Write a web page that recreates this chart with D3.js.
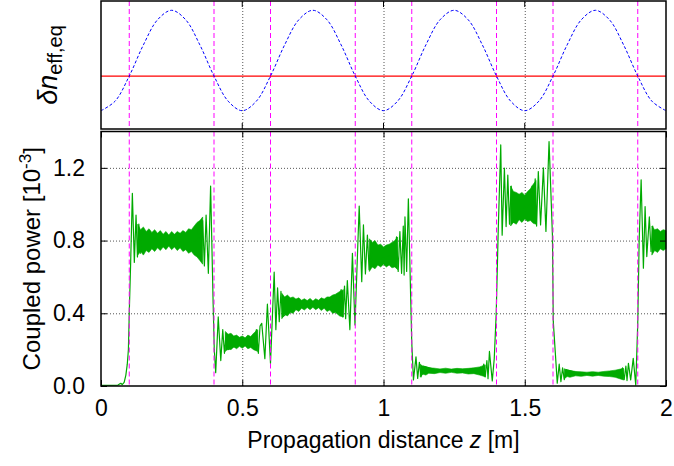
<!DOCTYPE html>
<html>
<head>
<meta charset="utf-8">
<script src="https://cdn.jsdelivr.net/npm/d3@7"></script>
<style>
  body { margin: 0; background: #fff; }
  text { font-family: "Liberation Sans", Arial, sans-serif; fill: #000; }
</style>
</head>
<body>
<svg id="chart" width="674" height="466"></svg>
<script>
// ---- data ----
const xTicks = [0, 0.5, 1, 1.5, 2];
const xTickLabels = ["0", "0.5", "1", "1.5", "2"];
const yTicks = [0, 0.4, 0.8, 1.2];
const yTickLabels = ["0.0", "0.4", "0.8", "1.2"];

// section boundaries (magenta dashed)
const boundaries = [0.1, 0.4, 0.6, 0.9, 1.1, 1.4, 1.6, 1.9];

// top panel: index profile (arbitrary units) and its threshold
const indexZ = [0, 0.05, 0.1, 0.15, 0.2, 0.25, 0.3, 0.35, 0.4, 0.45,
  0.5, 0.55, 0.6, 0.65, 0.7, 0.75, 0.8, 0.85, 0.9, 0.95,
  1, 1.05, 1.1, 1.15, 1.2, 1.25, 1.3, 1.35, 1.4, 1.45,
  1.5, 1.55, 1.6, 1.65, 1.7, 1.75, 1.8, 1.85, 1.9, 1.95, 2];
const indexValue = [-1, -0.81, -0.31, 0.31, 0.81, 1, 0.81, 0.31, -0.31, -0.81,
  -1, -0.81, -0.31, 0.31, 0.81, 1, 0.81, 0.31, -0.31, -0.81,
  -1, -0.81, -0.31, 0.31, 0.81, 1, 0.81, 0.31, -0.31, -0.81,
  -1, -0.81, -0.31, 0.31, 0.81, 1, 0.81, 0.31, -0.31, -0.81, -1];
const indexThreshold = -0.31;

// bottom panel: coupled power, main trace through transitions and ringing
const powerTrace = [
  [0, 0.003], [0.06, 0.005], [0.07, 0.015], [0.075, 0.008], [0.082, 0.02], [0.088, 0.06],
  [0.093, 0.12], [0.097, 0.2], [0.1, 0.4], [0.105, 0.68], [0.111, 1.06], [0.118, 0.68],
  [0.124, 0.94], [0.129, 0.71], [0.134, 0.89], [0.139, 0.73], [0.145, 0.85],
  [0.2, 0.8], [0.3, 0.79], [0.34, 0.8], [0.349, 0.9], [0.355, 0.71], [0.36, 0.91],
  [0.366, 0.66], [0.372, 0.94], [0.38, 0.62], [0.388, 1.1], [0.397, 0.45], [0.401, 0.2],
  [0.406, 0.073], [0.415, 0.38], [0.424, 0.14], [0.431, 0.31], [0.437, 0.18], [0.443, 0.29],
  [0.449, 0.2], [0.5, 0.24], [0.54, 0.24], [0.55, 0.31], [0.557, 0.18], [0.563, 0.33],
  [0.569, 0.345], [0.58, 0.15], [0.589, 0.45], [0.6, 0.125], [0.613, 0.626], [0.619, 0.31],
  [0.625, 0.54], [0.631, 0.354], [0.637, 0.52], [0.642, 0.38],
  [0.7, 0.45], [0.8, 0.455], [0.84, 0.46], [0.85, 0.53], [0.856, 0.38], [0.862, 0.55],
  [0.866, 0.37], [0.872, 0.58], [0.881, 0.31], [0.89, 0.73], [0.899, 0.336], [0.914, 0.99],
  [0.923, 0.574], [0.929, 0.886], [0.936, 0.616], [0.943, 0.83], [0.949, 0.64], [0.955, 0.8],
  [0.96, 0.66], [1.0, 0.71], [1.04, 0.72], [1.046, 0.82], [1.052, 0.63], [1.058, 0.85],
  [1.064, 0.62], [1.07, 0.88], [1.073, 0.61], [1.076, 0.93], [1.082, 0.63], [1.088, 1.03],
  [1.096, 0.5], [1.1, 0.24], [1.106, 0.033], [1.115, 0.16], [1.121, 0.042], [1.127, 0.13],
  [1.133, 0.05], [1.14, 0.11], [1.2, 0.083], [1.3, 0.08], [1.35, 0.085], [1.355, 0.12],
  [1.36, 0.05], [1.366, 0.14], [1.37, 0.04], [1.375, 0.19], [1.385, 0.028], [1.392, 0.15],
  [1.399, 0.4], [1.406, 0.85], [1.415, 1.326], [1.42, 0.83], [1.428, 1.198], [1.434, 0.877],
  [1.44, 1.16], [1.446, 0.89], [1.452, 1.1], [1.458, 0.9], [1.5, 0.985], [1.52, 0.99],
  [1.526, 1.1], [1.531, 0.9], [1.537, 1.14], [1.542, 0.88], [1.548, 1.18], [1.556, 0.886],
  [1.566, 1.2], [1.575, 0.85], [1.586, 1.345], [1.598, 0.83], [1.601, 0.354], [1.611, 0.116],
  [1.615, 0.015], [1.622, 0.12], [1.628, 0.024], [1.634, 0.1], [1.64, 0.035], [1.646, 0.09],
  [1.7, 0.067], [1.8, 0.067], [1.84, 0.07], [1.846, 0.1], [1.852, 0.035], [1.858, 0.11],
  [1.862, 0.03], [1.867, 0.125], [1.875, 0.033], [1.884, 0.152], [1.893, 0.005], [1.9, 0.345],
  [1.905, 0.8], [1.912, 1.134], [1.92, 0.648], [1.926, 0.987], [1.932, 0.712], [1.941, 0.93],
  [1.947, 0.74], [1.953, 0.88], [1.958, 0.75], [1.98, 0.8], [2.0, 0.8]
];

// bottom panel: ragged envelope of the fast oscillation on each plateau [z, low, high]
const powerBand = [
  [0.13, 0.72, 0.89], [0.14, 0.74, 0.86], [0.15, 0.72, 0.875], [0.16, 0.745, 0.85],
  [0.17, 0.735, 0.865], [0.18, 0.755, 0.845], [0.19, 0.74, 0.86], [0.2, 0.76, 0.84],
  [0.21, 0.745, 0.855], [0.22, 0.765, 0.835], [0.23, 0.75, 0.85], [0.24, 0.77, 0.83],
  [0.25, 0.75, 0.85], [0.26, 0.765, 0.835], [0.27, 0.745, 0.85], [0.28, 0.76, 0.84],
  [0.29, 0.74, 0.855], [0.3, 0.75, 0.845], [0.31, 0.73, 0.865], [0.32, 0.74, 0.86],
  [0.33, 0.72, 0.88], [0.34, 0.71, 0.9], [0.35, 0.69, 0.91], [0.36, 0.67, 0.93], null,
  [0.44, 0.19, 0.3], [0.45, 0.205, 0.285], [0.46, 0.2, 0.29], [0.47, 0.215, 0.275],
  [0.48, 0.205, 0.28], [0.49, 0.218, 0.268], [0.5, 0.208, 0.275], [0.51, 0.22, 0.265],
  [0.52, 0.205, 0.28], [0.53, 0.212, 0.272], [0.54, 0.2, 0.29], [0.555, 0.19, 0.31], null,
  [0.64, 0.37, 0.51], [0.65, 0.395, 0.49], [0.66, 0.385, 0.5], [0.67, 0.405, 0.485],
  [0.68, 0.4, 0.49], [0.69, 0.42, 0.478], [0.7, 0.41, 0.485], [0.71, 0.428, 0.472],
  [0.72, 0.418, 0.48], [0.73, 0.432, 0.47], [0.74, 0.42, 0.482], [0.75, 0.433, 0.468],
  [0.76, 0.42, 0.48], [0.77, 0.43, 0.472], [0.78, 0.415, 0.485], [0.79, 0.428, 0.478],
  [0.8, 0.41, 0.49], [0.81, 0.418, 0.49], [0.82, 0.4, 0.5], [0.83, 0.405, 0.505],
  [0.845, 0.385, 0.52], [0.858, 0.38, 0.53], null,
  [0.95, 0.63, 0.81], [0.96, 0.655, 0.79], [0.97, 0.645, 0.8], [0.98, 0.665, 0.775],
  [0.99, 0.655, 0.78], [1.0, 0.67, 0.765], [1.01, 0.655, 0.775], [1.02, 0.665, 0.78],
  [1.03, 0.65, 0.79], [1.04, 0.655, 0.8], [1.05, 0.64, 0.82], null,
  [1.13, 0.05, 0.12], [1.14, 0.065, 0.108], [1.15, 0.06, 0.106], [1.16, 0.07, 0.1],
  [1.18, 0.068, 0.098], [1.2, 0.074, 0.094], [1.22, 0.07, 0.098], [1.24, 0.075, 0.093],
  [1.26, 0.07, 0.097], [1.28, 0.072, 0.095], [1.3, 0.066, 0.097], [1.32, 0.068, 0.1],
  [1.34, 0.06, 0.105], [1.36, 0.051, 0.116], null,
  [1.45, 0.88, 1.1], [1.46, 0.9, 1.07], [1.47, 0.89, 1.065], [1.48, 0.915, 1.055],
  [1.49, 0.9, 1.065], [1.5, 0.918, 1.05], [1.51, 0.905, 1.07], [1.52, 0.91, 1.085],
  [1.53, 0.895, 1.11], [1.54, 0.89, 1.13], null,
  [1.64, 0.04, 0.095], [1.65, 0.052, 0.088], [1.66, 0.048, 0.085], [1.68, 0.056, 0.08],
  [1.7, 0.053, 0.078], [1.72, 0.058, 0.076], [1.74, 0.054, 0.079], [1.76, 0.058, 0.076],
  [1.78, 0.054, 0.08], [1.8, 0.052, 0.083], [1.82, 0.048, 0.087], [1.85, 0.033, 0.097], null,
  [1.95, 0.72, 0.88], [1.96, 0.745, 0.86], [1.97, 0.735, 0.865], [1.98, 0.755, 0.85],
  [1.99, 0.745, 0.86], [2.0, 0.755, 0.855]
];

// ---- layout ----
const svg = d3.select("#chart");
const left = 101, right = 666;
const topPanel = { top: 1, bottom: 129 };
const botPanel = { top: 131.5, bottom: 386 };

const x = d3.scaleLinear().domain([0, 2]).range([left, right]);
const yTop = d3.scaleLinear().domain([-1.365, 1.185]).range([topPanel.bottom, topPanel.top]);
const yBot = d3.scaleLinear().domain([0, 1.4]).range([botPanel.bottom, botPanel.top]);

const gridStyle = g => g.selectAll("line")
  .attr("stroke", "#555").attr("stroke-width", 1).attr("stroke-dasharray", "1,2");

// ---------- top panel ----------
const gTop = svg.append("g");

gTop.append("g")
  .attr("transform", "translate(0," + topPanel.bottom + ")")
  .call(d3.axisBottom(x).tickValues([0.5, 1, 1.5]).tickSize(-(topPanel.bottom - topPanel.top)).tickFormat(""))
  .call(g => g.select(".domain").remove())
  .call(gridStyle);

gTop.selectAll("line.bound")
  .data(boundaries)
  .enter()
  .append("line")
  .attr("class", "bound")
  .attr("x1", d => x(d)).attr("x2", d => x(d))
  .attr("y1", topPanel.top).attr("y2", topPanel.bottom)
  .attr("stroke", "#ff00ff").attr("stroke-width", 1).attr("stroke-dasharray", "5,3");

gTop.append("line")
  .attr("x1", x(0)).attr("x2", x(2))
  .attr("y1", yTop(indexThreshold)).attr("y2", yTop(indexThreshold))
  .attr("stroke", "#ff0000").attr("stroke-width", 1.3);

gTop.append("path")
  .datum(indexZ.map((z, i) => [z, indexValue[i]]))
  .attr("fill", "none")
  .attr("stroke", "#0000ff")
  .attr("stroke-width", 1)
  .attr("stroke-dasharray", "3,2")
  .attr("d", d3.line().x(d => x(d[0])).y(d => yTop(d[1])).curve(d3.curveCatmullRom));

// ticks on top panel (inward, bottom and top)
[topPanel.bottom, topPanel.top].forEach((yy, k) => {
  gTop.selectAll(null)
    .data([0.5, 1, 1.5])
    .enter()
    .append("line")
    .attr("x1", d => x(d)).attr("x2", d => x(d))
    .attr("y1", yy).attr("y2", k == 0 ? yy - 6 : yy + 6)
    .attr("stroke", "#000").attr("stroke-width", 1);
});

gTop.append("rect")
  .attr("x", left).attr("y", topPanel.top)
  .attr("width", right - left).attr("height", topPanel.bottom - topPanel.top)
  .attr("fill", "none").attr("stroke", "#000").attr("stroke-width", 1.5);

const topLabel = svg.append("text")
  .attr("transform", "translate(57," + ((topPanel.top + topPanel.bottom) / 2) + ") rotate(-90)")
  .attr("text-anchor", "middle")
  .style("font-size", "27px");
topLabel.append("tspan").style("font-style", "italic").text("δn");
topLabel.append("tspan").attr("baseline-shift", "-5").style("font-size", "20px").text("eff,eq");

// ---------- bottom panel ----------
const gBot = svg.append("g");

gBot.append("g")
  .attr("transform", "translate(0," + botPanel.bottom + ")")
  .call(d3.axisBottom(x).tickValues([0.5, 1, 1.5]).tickSize(-(botPanel.bottom - botPanel.top)).tickFormat(""))
  .call(g => g.select(".domain").remove())
  .call(gridStyle);

gBot.append("g")
  .attr("transform", "translate(" + left + ",0)")
  .call(d3.axisLeft(yBot).tickValues([0.4, 0.8, 1.2]).tickSize(-(right - left)).tickFormat(""))
  .call(g => g.select(".domain").remove())
  .call(gridStyle);

gBot.append("path")
  .datum(powerBand)
  .attr("fill", "#00aa00")
  .attr("stroke", "#00aa00")
  .attr("stroke-width", 0.6)
  .attr("d", d3.area()
    .defined(d => d != null)
    .x(d => x(d[0]))
    .y0(d => yBot(d[1]))
    .y1(d => yBot(d[2])));

gBot.append("path")
  .datum(powerTrace)
  .attr("fill", "none")
  .attr("stroke", "#00aa00")
  .attr("stroke-width", 1.2)
  .attr("stroke-linejoin", "round")
  .attr("d", d3.line().x(d => x(d[0])).y(d => yBot(d[1])));

gBot.selectAll("line.bound")
  .data(boundaries)
  .enter()
  .append("line")
  .attr("class", "bound")
  .attr("x1", d => x(d)).attr("x2", d => x(d))
  .attr("y1", botPanel.top).attr("y2", botPanel.bottom)
  .attr("stroke", "#ff00ff").attr("stroke-width", 1).attr("stroke-dasharray", "5,3");

// axes with inward ticks and labels
gBot.append("g")
  .attr("transform", "translate(0," + botPanel.bottom + ")")
  .call(d3.axisBottom(x).tickValues(xTicks).tickSizeInner(-6).tickSizeOuter(0).tickPadding(14)
    .tickFormat((d, i) => xTickLabels[i]))
  .call(g => g.select(".domain").remove())
  .call(g => g.selectAll("text").style("font-size", "23px").style("font-family", null));

gBot.append("g")
  .attr("transform", "translate(0," + botPanel.top + ")")
  .call(d3.axisTop(x).tickValues(xTicks).tickSizeInner(-6).tickSizeOuter(0).tickFormat(""))
  .call(g => g.select(".domain").remove());

gBot.append("g")
  .attr("transform", "translate(" + left + ",0)")
  .call(d3.axisLeft(yBot).tickValues(yTicks).tickSizeInner(-6).tickSizeOuter(0).tickPadding(16)
    .tickFormat((d, i) => yTickLabels[i]))
  .call(g => g.select(".domain").remove())
  .call(g => g.selectAll("text").style("font-size", "23px").style("font-family", null));

gBot.append("g")
  .attr("transform", "translate(" + right + ",0)")
  .call(d3.axisRight(yBot).tickValues(yTicks).tickSizeInner(-6).tickSizeOuter(0).tickFormat(""))
  .call(g => g.select(".domain").remove());

gBot.append("rect")
  .attr("x", left).attr("y", botPanel.top)
  .attr("width", right - left).attr("height", botPanel.bottom - botPanel.top)
  .attr("fill", "none").attr("stroke", "#000").attr("stroke-width", 1.5);

const yLabel = svg.append("text")
  .attr("transform", "translate(40," + ((botPanel.top + botPanel.bottom) / 2) + ") rotate(-90)")
  .attr("text-anchor", "middle")
  .style("font-size", "24px");
yLabel.append("tspan").text("Coupled power [10");
yLabel.append("tspan").attr("baseline-shift", "super").style("font-size", "17px").text("-3");
yLabel.append("tspan").text("]");

const xLabel = svg.append("text")
  .attr("x", (left + right) / 2)
  .attr("y", 448)
  .attr("text-anchor", "middle")
  .style("font-size", "23px");
xLabel.append("tspan").text("Propagation distance ");
xLabel.append("tspan").style("font-style", "italic").text("z");
xLabel.append("tspan").text(" [m]");
</script>
</body>
</html>
